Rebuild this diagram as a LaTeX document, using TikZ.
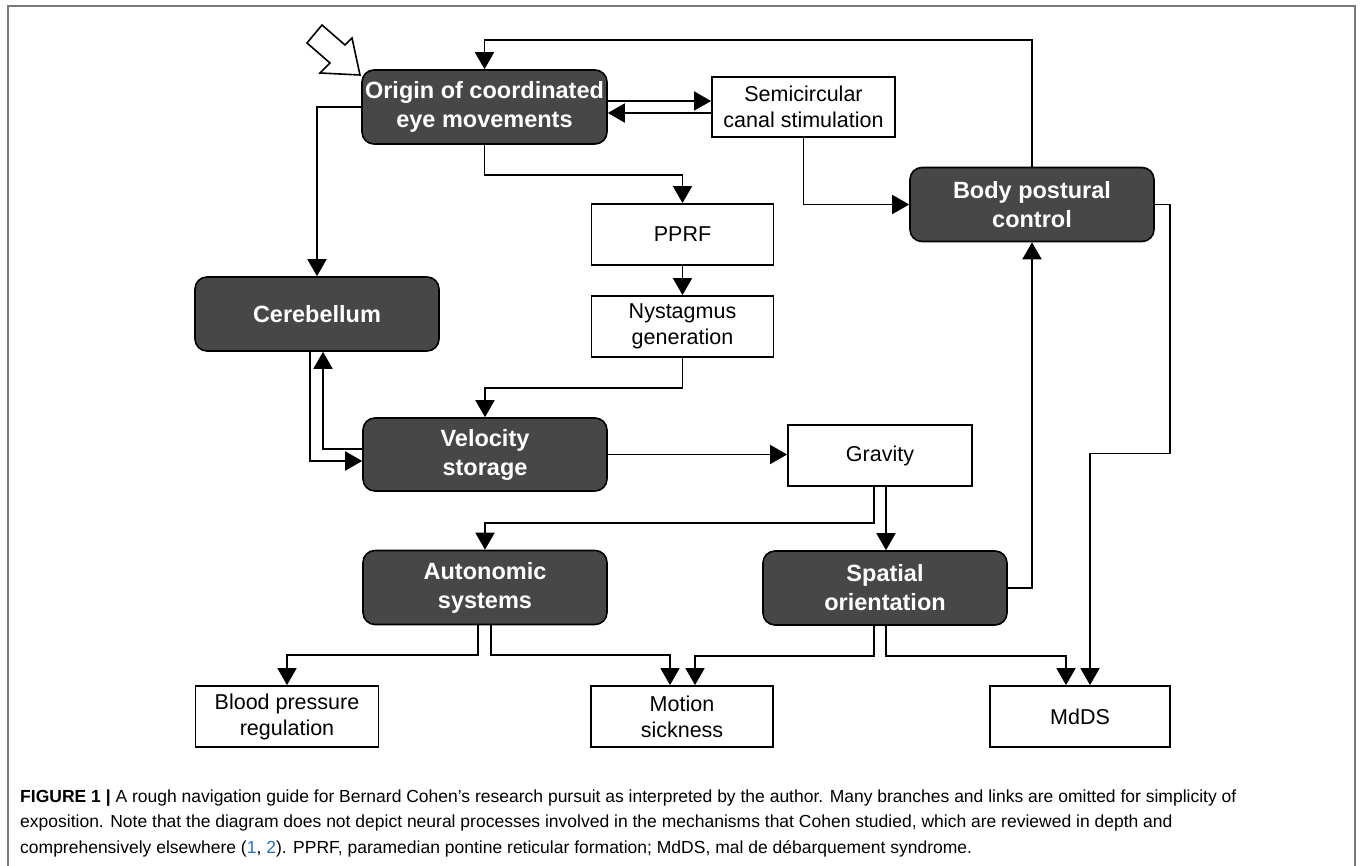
\documentclass[tikz,border=0pt]{standalone}
\usepackage{fontspec}
\setmainfont{Liberation Sans}
\usepackage{tikz}
\usetikzlibrary{arrows.meta}

\definecolor{darkbox}{HTML}{474747}
\definecolor{framegray}{HTML}{7A7A7A}
\definecolor{linkblue}{HTML}{2A6EBB}

\begin{document}
\begin{tikzpicture}[x=1pt, y=-1pt,
    darknode/.style={draw=black, line width=1.6pt, fill=darkbox, rounded corners=12pt,
        text=white, align=center, inner sep=0pt, minimum width=244pt, minimum height=74pt,
        font=\fontsize{23.5}{29}\selectfont\bfseries},
    lightnode/.style={draw=black, line width=1.8pt, fill=white, align=center, inner sep=0pt,
        minimum width=182pt, minimum height=61pt, font=\fontsize{21.5}{26}\selectfont},
    arr/.style={-{Triangle[length=17pt,width=19pt]}, line width=1.8pt, black},
    hollow/.style={draw=black, line width=1.6pt, fill=white, line join=miter}]
    \useasboundingbox (0,0) rectangle (1360,866);

    % Frame round the figure
    \draw[framegray, line width=2pt] (8,866) -- (8,6) -- (1355,6) -- (1355,866);

    % Dark boxes
    \node[darknode, minimum width=245pt] (origin) at (484.5,107) {Origin of coordinated\\eye movements};
    \node[darknode] (body) at (1032,204.5) {Body postural\\control};
    \node[darknode] (cereb) at (317,314) {Cerebellum};
    \node[darknode, minimum height=73pt] (velo) at (485,454.5) {Velocity\\storage};
    \node[darknode] (auto) at (485,587.5) {Autonomic\\systems};
    \node[darknode] (spat) at (885,588) {Spatial\\orientation};

    % White boxes
    \node[lightnode, minimum width=183pt, minimum height=60pt] (semi) at (803.5,107) {Semicircular\\canal stimulation};
    \node[lightnode] (pprf) at (682.5,234.5) {PPRF};
    \node[lightnode] (nyst) at (682.5,326.5) {Nystagmus\\generation};
    \node[lightnode, minimum width=184pt] (grav) at (880,455.5) {Gravity};
    \node[lightnode, minimum width=183pt] (blood) at (287,716.5) {Blood pressure\\regulation};
    \node[lightnode] (motion) at (682,716.5) {Motion\\sickness};
    \node[lightnode, minimum width=180pt] (mdds) at (1080,716.5) {MdDS};

    % Start marker
    \draw[hollow] (360,75) -- (320,73) -- (330,63) -- (307,43) -- (322,25) -- (345,45) -- (352,38) -- cycle;

    % Connectors
    \draw[arr] (body.north) -- ++(0,-127) -| (origin.north);
    \draw[arr] ([yshift=6pt]origin.east) -- ([yshift=6pt]origin.east -| semi.west);
    \draw[arr] ([yshift=-6pt]semi.west) -- ([yshift=-6pt]semi.west -| origin.east);
    \draw[arr] (origin.west) -| (cereb.north);
    \draw[arr] (origin.south) -- ++(0,30) -| (pprf.north);
    \draw[arr] (semi.south) |- (body.west);
    \draw[arr] (pprf.south) -- (nyst.north);
    \draw[arr] (nyst.south) -- ++(0,30) -| (velo.north);
    \draw[arr] ([yshift=5.5pt]velo.west) -| ([xshift=6pt]cereb.south);
    \draw[arr] ([xshift=-7pt]cereb.south) |- ([yshift=-6.5pt]velo.west);
    \draw[arr] (velo.east) -- (velo.east -| grav.west);
    \draw[arr] ([xshift=-6pt]grav.south) -- ++(0,36) -| (auto.north);
    \draw[arr] ([xshift=6pt]grav.south) -- ([xshift=6pt]grav.south |- spat.north);
    \draw[arr] (spat.east) -| (body.south);
    \draw[arr] (body.east) -- ++(15,0) -- ++(0,249) -| ([xshift=10pt]mdds.north);
    \draw[arr] ([xshift=-7pt]auto.south) -- ++(0,30) -| (blood.north);
    \draw[arr] ([xshift=6pt]auto.south) -- ++(0,30) -| ([xshift=-12pt]motion.north);
    \draw[arr] ([xshift=-11pt]spat.south) -- ++(0,30) -| ([xshift=13pt]motion.north);
    \draw[arr] ([xshift=1pt]spat.south) -- ++(0,30) -| ([xshift=-14pt]mdds.north);

    % Caption
    \node[anchor=base west, align=left, inner sep=0pt, font=\fontsize{17.5}{25.5}\selectfont] (caption) at (20,853)
        {\textbf{FIGURE 1 |} A rough navigation guide for Bernard Cohen’s research pursuit as interpreted by the author. Many branches and links are omitted for simplicity of\\
        exposition. Note that the diagram does not depict neural processes involved in the mechanisms that Cohen studied, which are reviewed in depth and\\
        comprehensively elsewhere ({\color{linkblue}1}, {\color{linkblue}2}). PPRF, paramedian pontine reticular formation; MdDS, mal de débarquement syndrome.};
\end{tikzpicture}
\end{document}
